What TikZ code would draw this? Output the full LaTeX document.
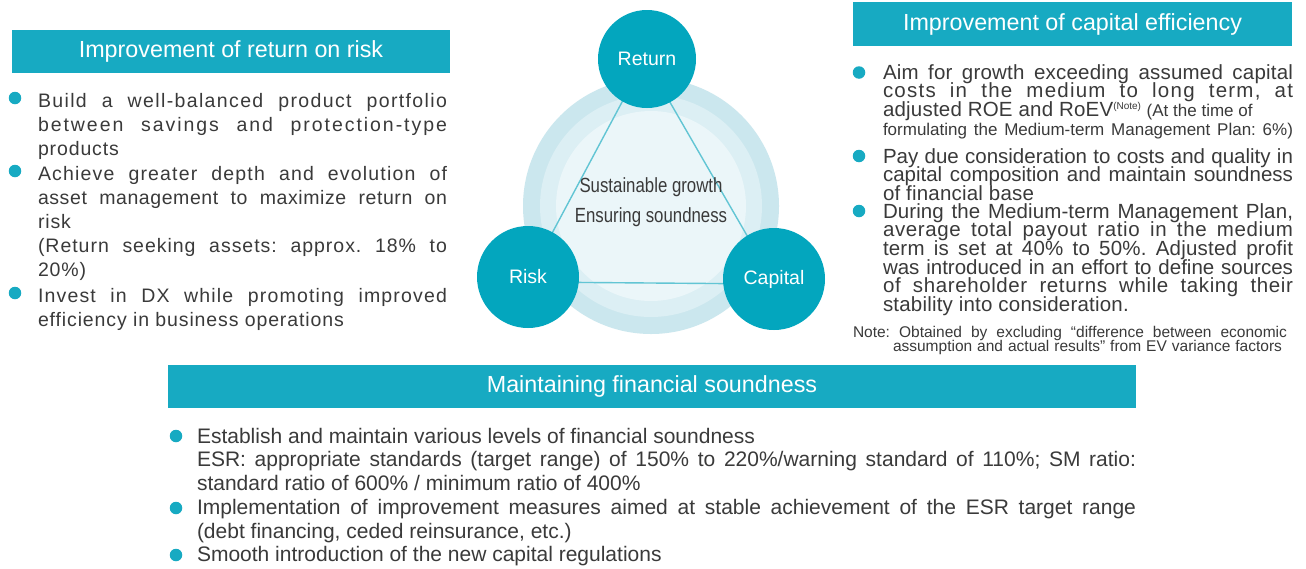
\documentclass[tikz,border=0pt]{standalone}
\usepackage{fontspec}
\setmainfont{Liberation Sans}
\newfontfamily\condfont[FakeStretch=0.82]{Liberation Sans}
\definecolor{teal1}{HTML}{17AAC2}
\definecolor{circ}{HTML}{03A6BE}
\definecolor{ringA}{HTML}{CBE7EE}
\definecolor{ringB}{HTML}{DCEFF4}
\definecolor{ringC}{HTML}{EBF6F9}
\definecolor{txt}{HTML}{3A3A3A}
\definecolor{tri}{HTML}{62C5D4}
\newcommand\JL[1]{\makebox[\linewidth][s]{#1}}
\newcommand\JLs[2]{\makebox[\linewidth][s]{\addfontfeature{LetterSpace=#1}#2}}
\newcommand\LS[2]{{\addfontfeature{LetterSpace=#1}#2}}
\newcommand\lefttext{\frenchspacing\fontsize{19.5}{24.2}\selectfont\lineskiplimit=-100pt\lineskip=0pt\relax}
\newcommand\righttext{\frenchspacing\fontsize{20.5}{18.7}\selectfont\lineskiplimit=-100pt\lineskip=0pt\relax}
\newcommand\smalltext{\fontsize{17}{18.7}\selectfont}
\newcommand\supnote{\raisebox{6.5pt}{\fontsize{10}{10}\selectfont(Note)}}
\newcommand\notetext{\frenchspacing\fontsize{15.5}{14}\selectfont\lineskiplimit=-100pt\lineskip=0pt\relax}
\newcommand\bottomtext{\frenchspacing\fontsize{21}{23.6}\selectfont\lineskiplimit=-100pt\lineskip=0pt\relax}
\begin{document}
\begin{tikzpicture}[x=1pt,y=-1pt,
  every node/.style={inner sep=0pt, outer sep=0pt},
  header/.style={fill=teal1, text=white, font=\fontsize{23.3}{26}\selectfont},
  bulletdot/.style={circle, fill=teal1, minimum size=12.5pt},
  bodytext/.style={anchor=base west, text=txt},
  bigcirc/.style={circle, fill=circ, text=white, font=\fontsize{19.5}{22}\selectfont},
  centertext/.style={anchor=base, text=txt, font=\condfont\fontsize{20.5}{24}\selectfont},
  triline/.style={draw=tri, line width=1.4pt}]
\useasboundingbox[fill=white] (0,0) rectangle (1306,568);

% ---------- headers ----------
\node[header, minimum width=438pt, minimum height=43pt] (hl) at (231,51.5) {Improvement of return on risk};
\node[header, minimum width=439pt, minimum height=44pt] (hr) at (1072.5,24) {Improvement of capital efficiency};
\node[header, minimum width=968pt, minimum height=43pt] (hb) at (652,386.5) {Maintaining financial soundness};

% ---------- centre diagram ----------
\fill[ringA] (651,206) circle[radius=128];
\fill[ringB] (651,206) circle[radius=111];
\fill[ringC] (651,206) circle[radius=95];
\coordinate (cRet) at (645,59);
\coordinate (cRisk) at (526,282);
\coordinate (cCap) at (775,284);
\draw[triline] (cRet) -- (cRisk) -- (cCap) -- cycle;
\node[bigcirc, minimum size=98pt] (ret) at (647,59) {Return};
\node[bigcirc, minimum size=102pt] (risk) at (528,277) {Risk};
\node[bigcirc, minimum size=102pt] (cap) at (774,279) {Capital};
\node[centertext] (ctr1) at (651,192) {Sustainable growth};
\node[centertext] (ctr2) at (651,222) {Ensuring soundness};

% ---------- left column ----------
\node[bulletdot] (bl1) at (15,98) {};
\node[bulletdot] (bl2) at (15,171) {};
\node[bulletdot] (bl3) at (15,293) {};
\node[bodytext] (l1) at (38,107) {\parbox[t]{409pt}{\lefttext
  \JLs{7}{Build a well-balanced product portfolio}\\
  \JLs{10}{between savings and protection-type}\\
  \LS{4.5}{products}}};
\node[bodytext] (l2) at (38,180) {\parbox[t]{409pt}{\lefttext
  \JLs{6}{Achieve greater depth and evolution of}\\
  \JLs{3}{asset management to maximize return on}\\
  \LS{4.5}{risk}\\
  \JLs{5}{(Return seeking assets: approx. 18\% to}\\
  \LS{4.5}{20\%)}}};
\node[bodytext] (l3) at (38,302) {\parbox[t]{409pt}{\lefttext
  \JLs{6}{Invest in DX while promoting improved}\\
  \LS{4.5}{efficiency in business operations}}};

% ---------- right column ----------
\node[bulletdot] (br1) at (859,72.5) {};
\node[bulletdot] (br2) at (859,156) {};
\node[bulletdot] (br3) at (859,211) {};
\node[bodytext] (r1) at (883,79) {\parbox[t]{410pt}{\righttext
  \JLs{1}{Aim for growth exceeding assumed capital}\\
  \JLs{6}{costs in the medium to long term, at}\\
  \LS{1}{adjusted ROE and RoEV}\supnote\ {\smalltext(At the time of}\\
  {\smalltext\JL{formulating the Medium-term Management Plan: 6\%)}}}};
\node[bodytext] (r2) at (883,163) {\parbox[t]{410pt}{\righttext
  \JL{Pay due consideration to costs and quality in}\\
  \JL{capital composition and maintain soundness}\\
  \LS{1}{of financial base}}};
\node[bodytext] (r3) at (883,218) {\parbox[t]{410pt}{\righttext
  \JLs{0.5}{During the Medium-term Management Plan,}\\
  \JLs{3}{average total payout ratio in the medium}\\
  \JLs{1}{term is set at 40\% to 50\%. Adjusted profit}\\
  \JL{was introduced in an effort to define sources}\\
  \JLs{3}{of shareholder returns while taking their}\\
  \LS{1}{stability into consideration.}}};
\node[bodytext] (note) at (853,337) {\parbox[t]{434pt}{\notetext
  \JL{Note: Obtained by excluding “difference between economic}\\
  \hspace*{40pt}\makebox[389pt][s]{assumption and actual results” from EV variance factors}}};

% ---------- bottom ----------
\node[bulletdot] (bb1) at (176,436) {};
\node[bulletdot] (bb2) at (176,508) {};
\node[bulletdot] (bb3) at (176,555) {};
\node[bodytext] (b1) at (197,443) {\parbox[t]{939pt}{\bottomtext
  Establish and maintain various levels of financial soundness\\
  \JL{ESR: appropriate standards (target range) of 150\% to 220\%/warning standard of 110\%; SM ratio:}\\
  standard ratio of 600\% / minimum ratio of 400\%}};
\node[bodytext] (b2) at (197,514.5) {\parbox[t]{939pt}{\bottomtext
  \JL{Implementation of improvement measures aimed at stable achievement of the ESR target range}\\
  (debt financing, ceded reinsurance, etc.)}};
\node[bodytext] (b3) at (197,561.5) {\parbox[t]{939pt}{\bottomtext
  Smooth introduction of the new capital regulations}};
\end{tikzpicture}
\end{document}
